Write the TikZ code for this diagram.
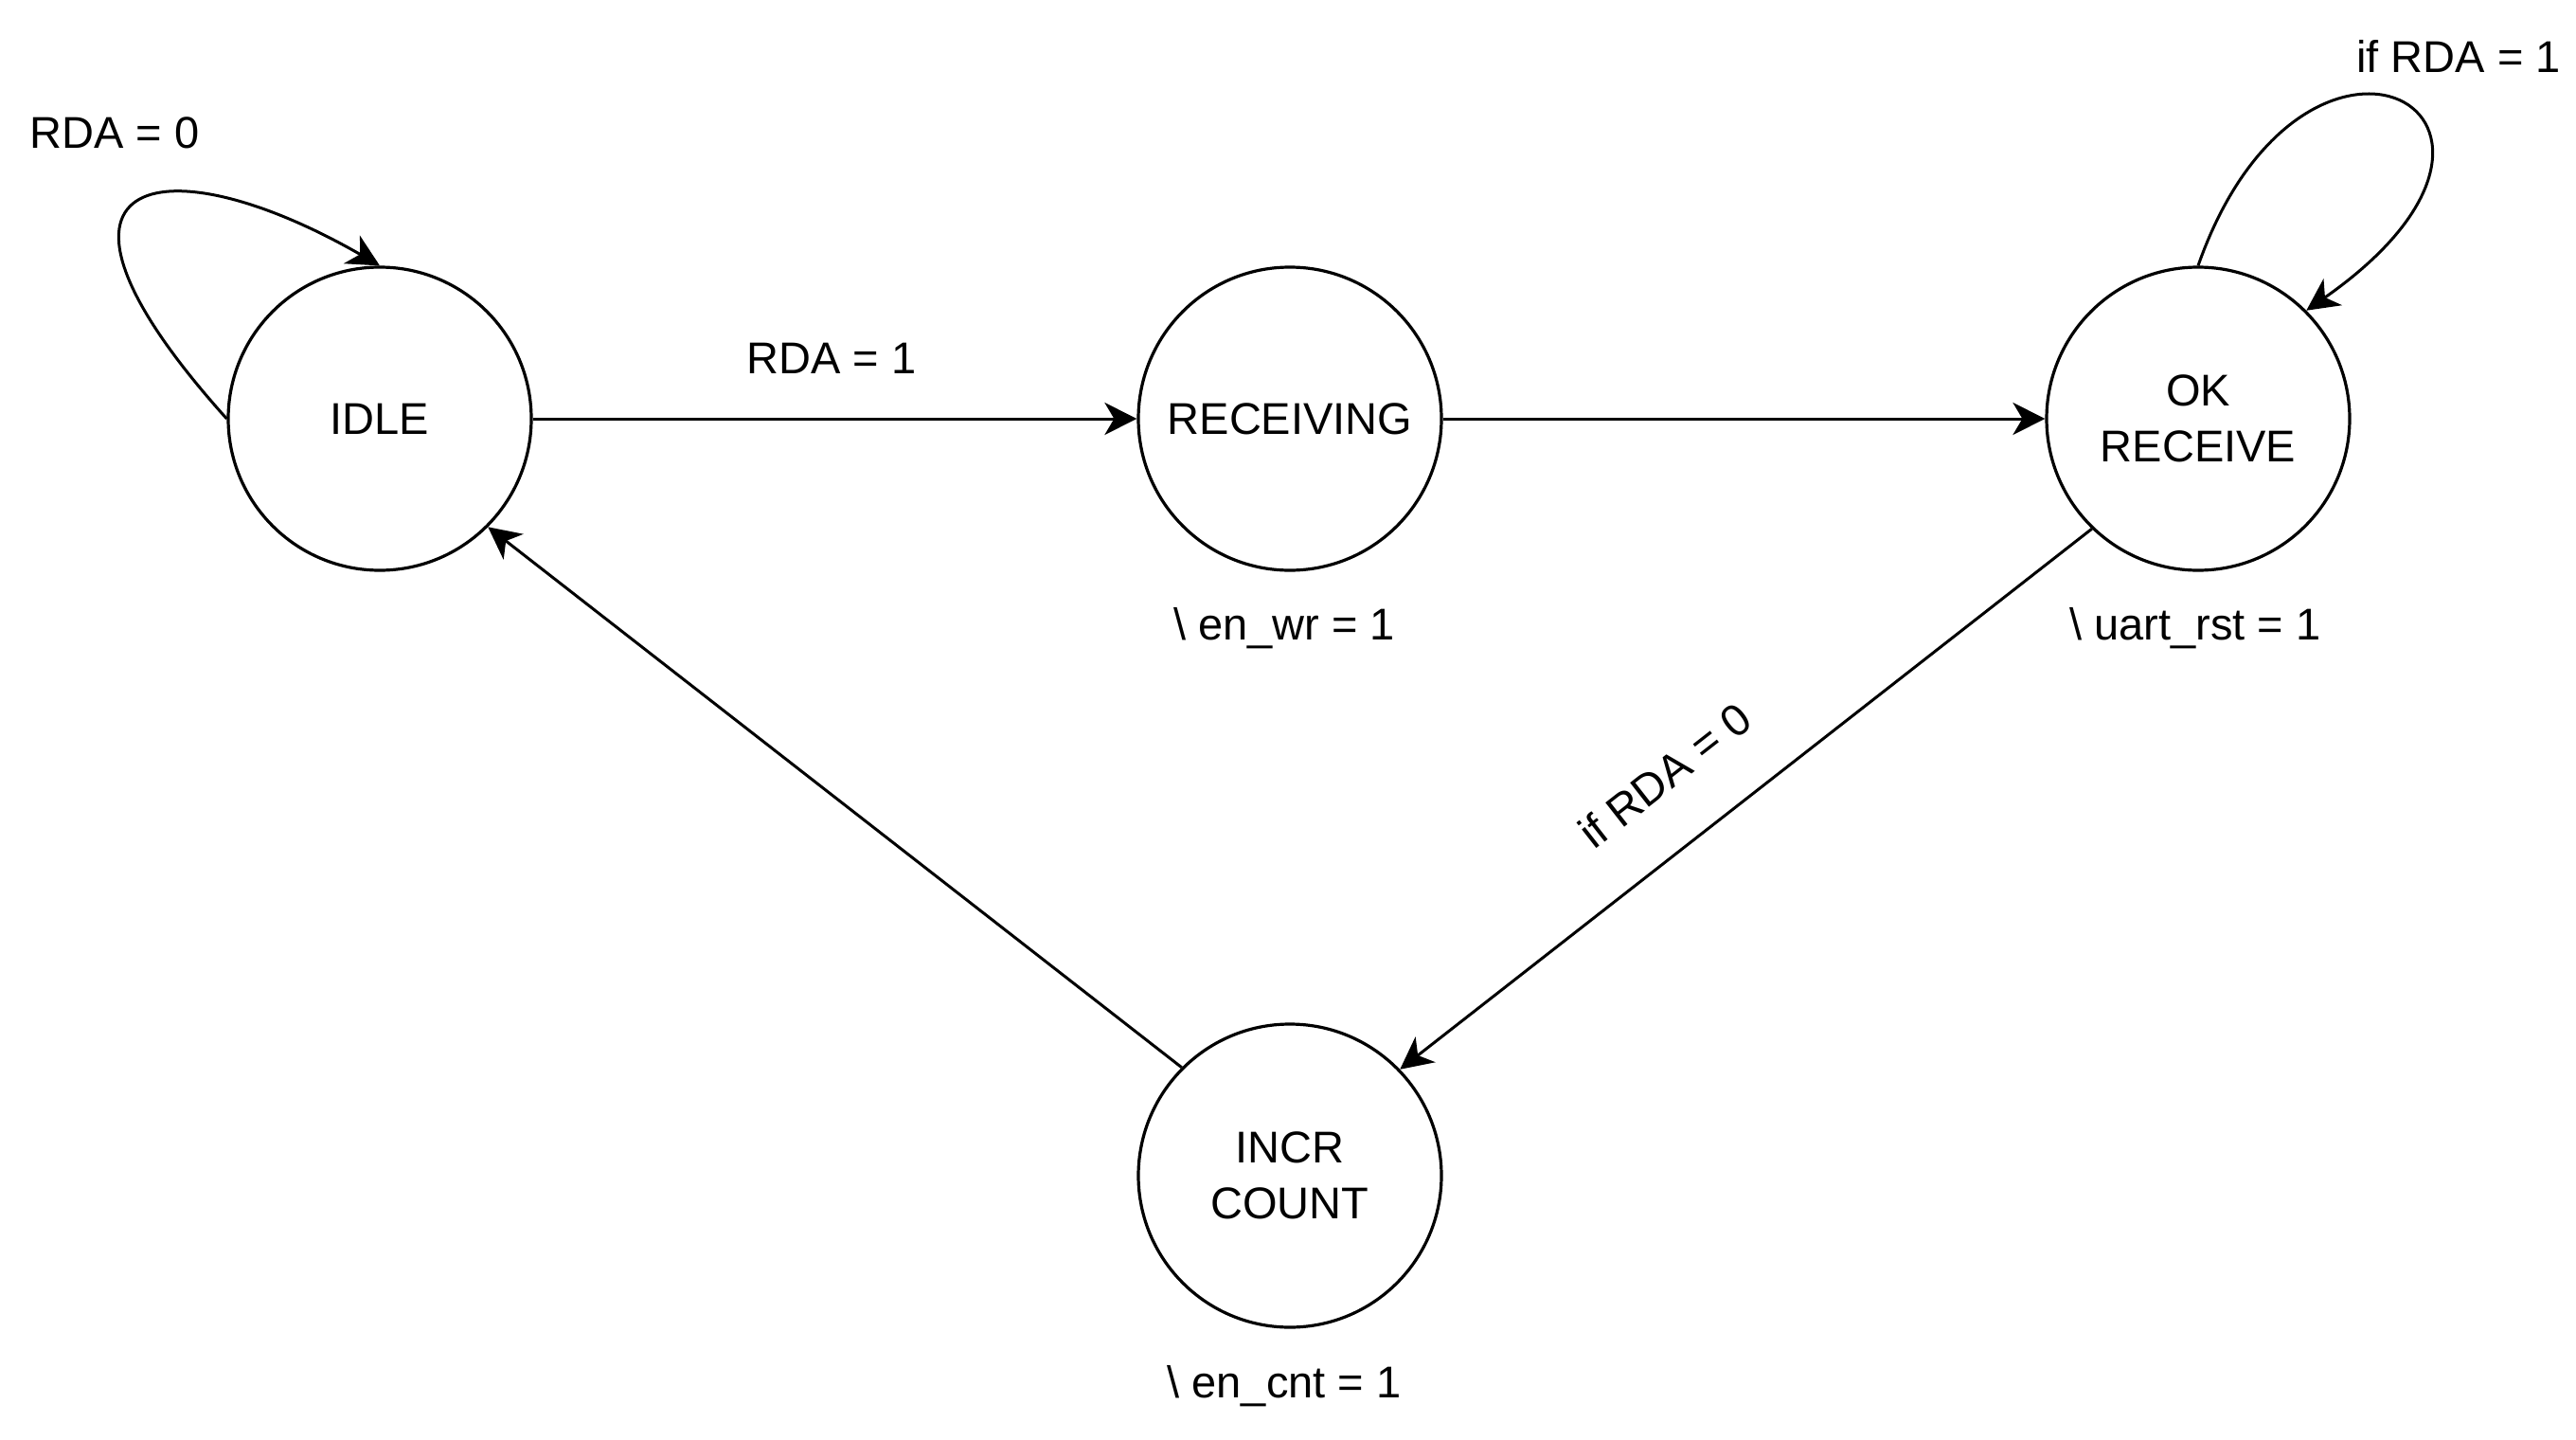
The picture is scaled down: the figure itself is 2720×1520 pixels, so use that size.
\documentclass[tikz,border=0pt]{standalone}
\usepackage{fontspec}
\setmainfont{Liberation Sans}
\usetikzlibrary{arrows.meta}
\begin{document}
\begin{tikzpicture}[x=0.5pt,y=-0.5pt,
  state/.style={circle,draw,line width=1.6pt,minimum size=160pt,inner sep=0pt,align=center,font=\fontsize{23.5}{29.5}\selectfont},
  lbl/.style={font=\fontsize{23.5}{29.5}\selectfont,inner sep=0pt},
  edge/.style={line width=1.5pt,-{Stealth[length=17pt,width=17pt,inset=5pt]}}]
\useasboundingbox (0,0) rectangle (2720,1520);
\node[state] (idle) at (401,442) {IDLE};
\node[state] (recv) at (1362,442) {RECEIVING};
\node[state] (ok) at (2321,442) {OK\\RECEIVE};
\node[state] (incr) at (1362,1241) {INCR\\COUNT};
% edges
\draw[edge] (idle.east) -- (recv.west);
\draw[edge] (recv.east) -- (ok.west);
\draw[edge] (ok.226.5) -- (incr.44.7);
\draw[edge] (incr.135.2) -- (idle.-45);
\draw[edge] (idle.west) .. controls (6.5,183) and (169,147) .. (idle.north);
\draw[edge] (ok.north) .. controls (2433,-38) and (2731,121) .. (ok.45);
% labels
\node[lbl,anchor=base] (l0) at (121,156) {RDA = 0};
\node[lbl,anchor=base] (l1) at (878,394) {RDA = 1};
\node[lbl,anchor=base] (l2) at (2596,77) {if RDA = 1};
\node[lbl,rotate=38] (l3) at (1758,818) {if RDA = 0};
\node[lbl,anchor=base] (o1) at (1356,675) {\textbackslash\ en\_wr = 1};
\node[lbl,anchor=base] (o2) at (2318,675) {\textbackslash\ uart\_rst = 1};
\node[lbl,anchor=base] (o3) at (1356,1475) {\textbackslash\ en\_cnt = 1};
\end{tikzpicture}
\end{document}
